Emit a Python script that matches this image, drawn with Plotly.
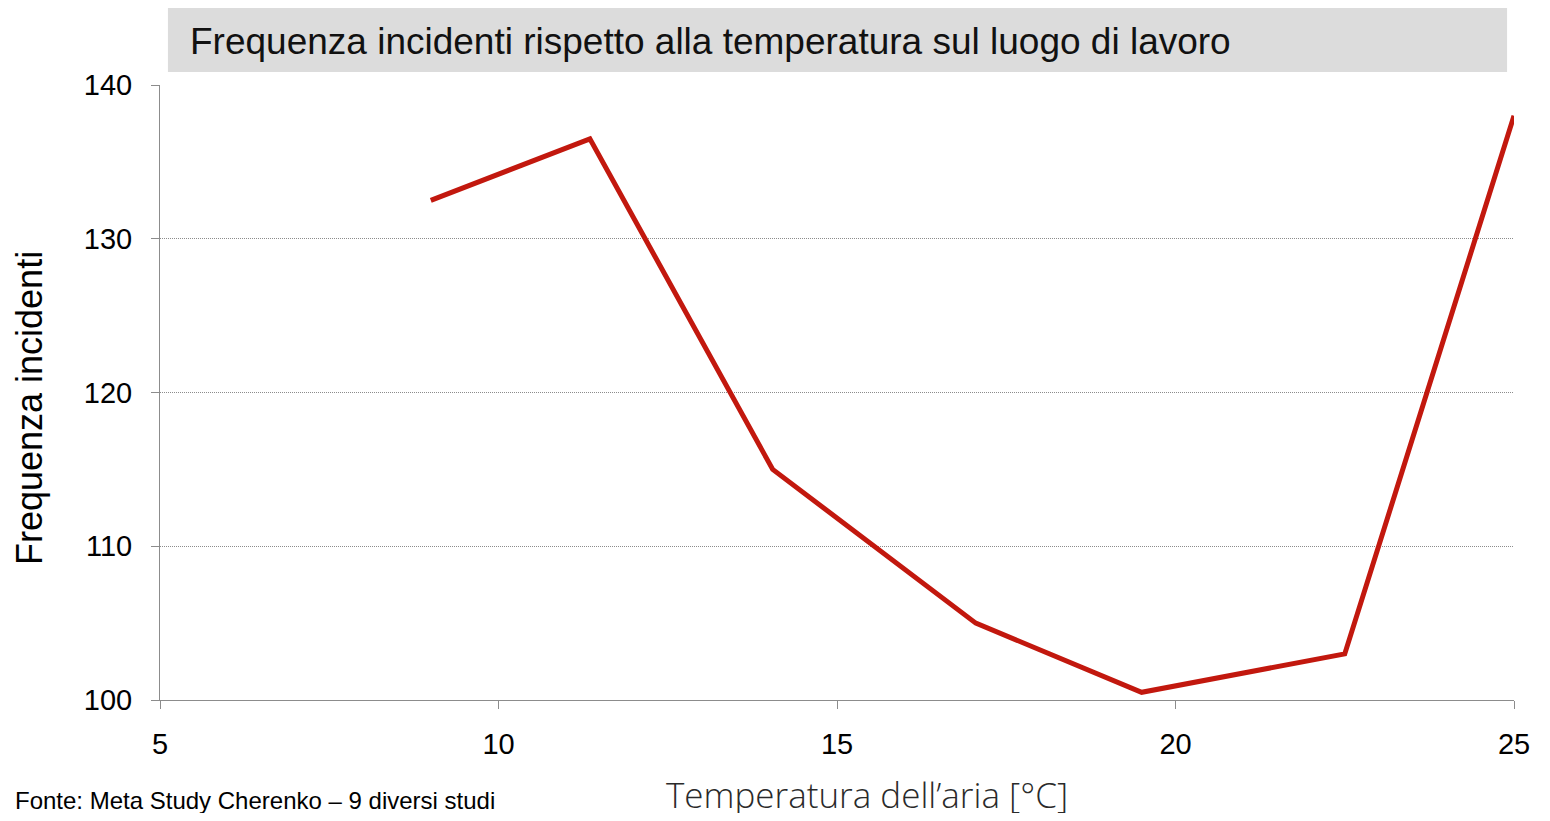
"""Incident frequency vs workplace air temperature."""

import plotly.graph_objects as go

temperature = [9.0, 11.35, 14.05, 17.05, 19.5, 22.5, 25.0]
incidents = [132.5, 136.5, 115.0, 105.0, 100.5, 103.0, 138.0]

x_ticks = [5, 10, 15, 20, 25]
y_ticks = [100, 110, 120, 130, 140]

TITLE = "Frequenza incidenti rispetto alla temperatura sul luogo di lavoro"
X_TITLE = "Temperatura dell\u2019aria [\u00b0C]"
Y_TITLE = "Frequenza incidenti"
SOURCE = "Fonte: Meta Study Cherenko \u2013 9 diversi studi"

FONT = "Liberation Sans, Arial, sans-serif"
GRID = "#8c8c8c"
RED = "#C2180E"

# the page body keeps its 8px margin on every side; size the figure so nothing overflows
OFF = 8
W, H = 1550 - 2 * OFF, 821 - 2 * OFF
# plot area in window pixels: 160..1525 horizontally, 85..700 vertically
L, T = 160 - OFF, 85 - OFF
R = (W + OFF) - 1525
B = (H + OFF) - 700
plot_w = W - L - R
plot_h = H - T - B


def px_x(p):
    return (p - OFF - L) / plot_w


def px_y(p):
    return (H - B - (p - OFF)) / plot_h


fig = go.Figure()
fig.add_trace(go.Scatter(
    x=temperature,
    y=incidents,
    mode="lines",
    line=dict(color=RED, width=5),
    showlegend=False,
    cliponaxis=False,
))

fig.update_layout(
    width=W,
    height=H,
    margin=dict(l=L, r=R, t=T, b=B, pad=0),
    paper_bgcolor="white",
    plot_bgcolor="white",
    font=dict(family=FONT, size=29, color="#000000"),
    shapes=[dict(
        type="rect", xref="paper", yref="paper",
        x0=px_x(168), x1=px_x(1518), y0=px_y(72), y1=px_y(8),
        fillcolor="#DCDCDC", line=dict(width=0), layer="below",
    )],
    annotations=[
        dict(
            text=TITLE, xref="paper", yref="paper",
            x=px_x(188), y=px_y(41), xanchor="left", yanchor="middle",
            showarrow=False, font=dict(family=FONT, size=37, color="#111111"),
        ),
        dict(
            text=Y_TITLE, xref="paper", yref="paper",
            x=px_x(29), y=px_y(408), xanchor="center", yanchor="middle",
            textangle=-90, showarrow=False,
            font=dict(family=FONT, size=36, color="#000000"),
        ),
        dict(
            text=X_TITLE, xref="paper", yref="paper",
            x=px_x(873), y=px_y(794), xanchor="center", yanchor="middle",
            showarrow=False,
            font=dict(family="Open Sans", size=35, color="#2a2a2a", weight=300),
        ),
        dict(
            text=SOURCE, xref="paper", yref="paper",
            x=px_x(12), y=px_y(800), xanchor="left", yanchor="middle",
            showarrow=False, font=dict(family=FONT, size=24, color="#000000"),
        ),
    ],
)

fig.update_xaxes(
    range=[5, 25],
    tickvals=x_ticks,
    ticks="outside",
    ticklen=8,
    tickcolor=GRID,
    ticklabelstandoff=10,
    showgrid=False,
    zeroline=False,
    showline=True,
    linecolor=GRID,
    linewidth=1,
)
fig.update_yaxes(
    range=[100, 140],
    tickvals=y_ticks,
    ticks="outside",
    ticklen=8,
    tickcolor=GRID,
    ticklabelstandoff=13,
    showgrid=True,
    gridcolor=GRID,
    griddash="1px,1px",
    gridwidth=1,
    zeroline=False,
    showline=True,
    linecolor=GRID,
    linewidth=1,
)

fig.write_html("out.html", config={"displayModeBar": False})
